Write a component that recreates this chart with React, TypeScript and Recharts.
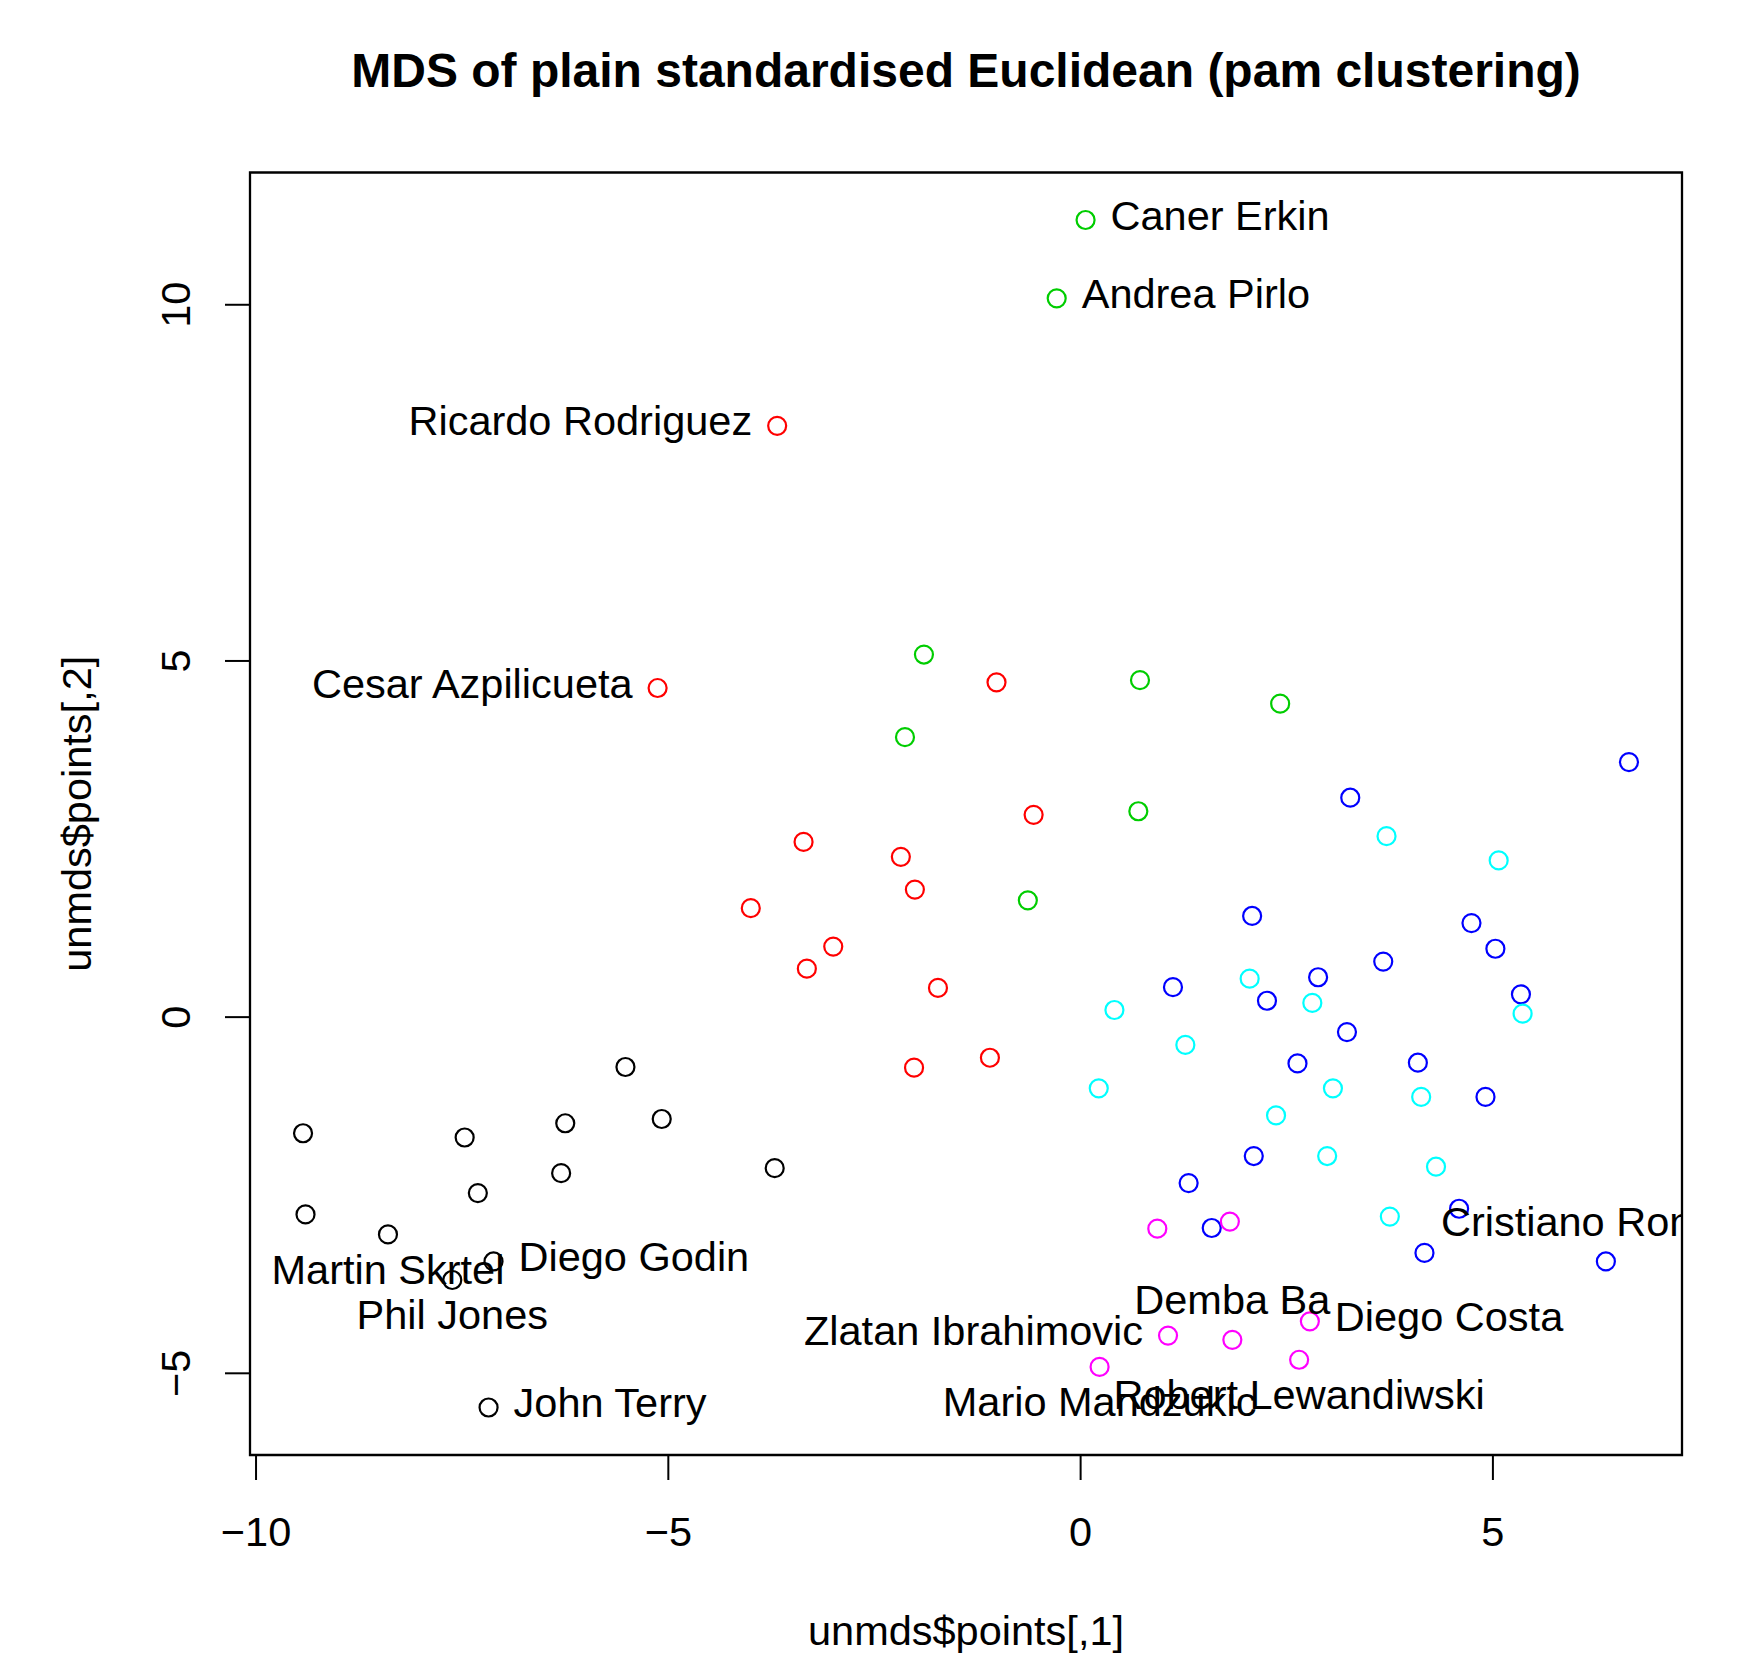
import { ReferenceArea, Scatter, ScatterChart, XAxis, YAxis } from "recharts";

type Pt = { x: number; y: number; name?: string };

// pam cluster 1 (black)
const cluster1: Pt[] = [
  { x: -5.52, y: -0.7 },
  { x: -9.43, y: -1.63 },
  { x: -7.47, y: -1.69 },
  { x: -6.25, y: -1.49 },
  { x: -5.08, y: -1.43 },
  { x: -6.3, y: -2.19 },
  { x: -7.31, y: -2.47 },
  { x: -3.71, y: -2.12 },
  { x: -9.4, y: -2.77 },
  { x: -8.4, y: -3.05, name: "Martin Skrtel" },
  { x: -7.12, y: -3.43, name: "Diego Godin" },
  { x: -7.62, y: -3.69, name: "Phil Jones" },
  { x: -7.18, y: -5.48, name: "John Terry" },
];

// cluster 2 (red)
const cluster2: Pt[] = [
  { x: -3.68, y: 8.3, name: "Ricardo Rodriguez" },
  { x: -5.13, y: 4.62, name: "Cesar Azpilicueta" },
  { x: -1.02, y: 4.7 },
  { x: -0.57, y: 2.84 },
  { x: -3.36, y: 2.46 },
  { x: -2.18, y: 2.25 },
  { x: -2.01, y: 1.79 },
  { x: -4.0, y: 1.53 },
  { x: -3.0, y: 0.99 },
  { x: -3.32, y: 0.68 },
  { x: -1.73, y: 0.41 },
  { x: -1.1, y: -0.57 },
  { x: -2.02, y: -0.71 },
];

// cluster 3 (green)
const cluster3: Pt[] = [
  { x: 0.06, y: 11.19, name: "Caner Erkin" },
  { x: -0.29, y: 10.09, name: "Andrea Pirlo" },
  { x: -1.9, y: 5.09 },
  { x: 0.72, y: 4.73 },
  { x: 2.42, y: 4.4 },
  { x: -2.13, y: 3.93 },
  { x: 0.7, y: 2.89 },
  { x: -0.64, y: 1.64 },
];

// cluster 4 (blue)
const cluster4: Pt[] = [
  { x: 6.65, y: 3.58 },
  { x: 3.27, y: 3.08 },
  { x: 2.08, y: 1.42 },
  { x: 4.74, y: 1.32 },
  { x: 5.03, y: 0.96 },
  { x: 3.67, y: 0.78 },
  { x: 1.12, y: 0.42 },
  { x: 2.88, y: 0.56 },
  { x: 2.26, y: 0.23 },
  { x: 5.34, y: 0.32 },
  { x: 3.23, y: -0.21 },
  { x: 2.63, y: -0.65 },
  { x: 4.09, y: -0.64 },
  { x: 4.91, y: -1.12 },
  { x: 2.1, y: -1.95 },
  { x: 1.31, y: -2.33 },
  { x: 1.59, y: -2.96 },
  { x: 4.59, y: -2.69 },
  { x: 4.17, y: -3.31 },
  { x: 6.37, y: -3.43, name: "Cristiano Ronaldo" },
];

// cluster 5 (cyan)
const cluster5: Pt[] = [
  { x: 3.71, y: 2.54 },
  { x: 5.07, y: 2.2 },
  { x: 2.05, y: 0.54 },
  { x: 2.81, y: 0.2 },
  { x: 5.36, y: 0.05 },
  { x: 0.41, y: 0.1 },
  { x: 1.27, y: -0.39 },
  { x: 0.22, y: -1.0 },
  { x: 3.06, y: -1.0 },
  { x: 4.13, y: -1.12 },
  { x: 2.37, y: -1.38 },
  { x: 2.99, y: -1.95 },
  { x: 4.31, y: -2.1 },
  { x: 3.75, y: -2.8 },
];

// cluster 6 (magenta)
const cluster6: Pt[] = [
  { x: 0.93, y: -2.97 },
  { x: 1.81, y: -2.87 },
  { x: 1.06, y: -4.47, name: "Zlatan Ibrahimovic" },
  { x: 1.84, y: -4.53, name: "Demba Ba" },
  { x: 2.78, y: -4.27, name: "Diego Costa" },
  { x: 2.65, y: -4.81, name: "Robert Lewandiwski" },
  { x: 0.23, y: -4.91, name: "Mario Mandzukic" },
];

const xTicks = [-10, -5, 0, 5];
const yTicks = [-5, 0, 5, 10];

// which side of the point each name is written on (R's pos=)
const labelSide: Record<string, "left" | "right" | "above" | "below"> = {
  "Caner Erkin": "right",
  "Andrea Pirlo": "right",
  "Ricardo Rodriguez": "left",
  "Cesar Azpilicueta": "left",
  "Martin Skrtel": "below",
  "Diego Godin": "right",
  "Phil Jones": "below",
  "John Terry": "right",
  "Zlatan Ibrahimovic": "left",
  "Demba Ba": "above",
  "Diego Costa": "right",
  "Mario Mandzukic": "below",
  "Robert Lewandiwski": "below",
  "Cristiano Ronaldo": "above",
};

const clusters = [
  { id: "c1", color: "#000000", points: cluster1 },
  { id: "c2", color: "#FF0000", points: cluster2 },
  { id: "c3", color: "#00CD00", points: cluster3 },
  { id: "c4", color: "#0000FF", points: cluster4 },
  { id: "c5", color: "#00FFFF", points: cluster5 },
  { id: "c6", color: "#FF00FF", points: cluster6 },
];

const allPoints = clusters.flatMap((c) => c.points);
const named = allPoints.filter((p) => p.name);

// R default: data range widened by 4% on each side
const padRange = (v: number[]): [number, number] => {
  const lo = Math.min(...v);
  const hi = Math.max(...v);
  const d = (hi - lo) * 0.04;
  return [lo - d, hi + d];
};
const xDomain = padRange(allPoints.map((p) => p.x));
const yDomain = padRange(allPoints.map((p) => p.y));

const W = 1751;
const H = 1654;
const PLOT = { left: 250, top: 172.5, right: 1682, bottom: 1455 };
const FONT = '"Liberation Sans", Arial, Helvetica, sans-serif';
const FS = 41.5;

const fmt = (v: number) => String(v).replace("-", "\u2212");

const Circle = ({ cx, cy, color }: any) => (
  <circle cx={cx} cy={cy} r={9} fill="none" stroke={color} strokeWidth={2.2} />
);

const NameLabel = ({ cx, cy, payload }: any) => {
  const side = labelSide[payload.name];
  let tx = cx;
  let ty = cy + 9.5;
  let anchor: "start" | "middle" | "end" = "middle";
  if (side === "right") {
    tx = cx + 25;
    anchor = "start";
  } else if (side === "left") {
    tx = cx - 25;
    anchor = "end";
  } else if (side === "above") {
    ty = cy - 25.5;
  } else {
    ty = cy + 49.5;
  }
  const clipId = "clip-" + payload.name.replace(/\s+/g, "-");
  return (
    <g>
      <clipPath id={clipId}>
        <rect
          x={PLOT.left}
          y={PLOT.top}
          width={PLOT.right - PLOT.left}
          height={PLOT.bottom - PLOT.top}
        />
      </clipPath>
      <text
        x={tx}
        y={ty}
        textAnchor={anchor}
        fontFamily={FONT}
        fontSize={FS}
        fill="#000"
        clipPath={`url(#${clipId})`}
      >
        {payload.name}
      </text>
    </g>
  );
};

const XTick = ({ x, payload }: any) => (
  <text x={x} y={1545.7} textAnchor="middle" fontFamily={FONT} fontSize={FS} fill="#000">
    {fmt(payload.value)}
  </text>
);

const YTick = ({ y, payload }: any) => (
  <text
    x={190.5}
    y={y}
    transform={`rotate(-90, 190.5, ${y})`}
    textAnchor="middle"
    fontFamily={FONT}
    fontSize={FS}
    fill="#000"
  >
    {fmt(payload.value)}
  </text>
);

export default function App() {
  return (
    <div style={{ position: "absolute", left: 0, top: 0, width: W, height: H, background: "#fff" }}>
      <ScatterChart
        width={W}
        height={H}
        margin={{ top: PLOT.top, right: W - PLOT.right, left: 0, bottom: 0 }}
      >
        <XAxis
          type="number"
          dataKey="x"
          domain={xDomain}
          ticks={xTicks}
          allowDataOverflow
          height={H - PLOT.bottom}
          axisLine={false}
          tickSize={25}
          tickLine={{ stroke: "#000", strokeWidth: 2 }}
          tick={<XTick />}
          label={{
            value: "unmds$points[,1]",
            content: ({ viewBox }: any) => (
              <text
                x={viewBox.x + viewBox.width / 2}
                y={1645}
                textAnchor="middle"
                fontFamily={FONT}
                fontSize={FS}
                fill="#000"
              >
                unmds$points[,1]
              </text>
            ),
          }}
        />
        <YAxis
          type="number"
          dataKey="y"
          domain={yDomain}
          ticks={yTicks}
          allowDataOverflow
          width={PLOT.left}
          axisLine={false}
          tickSize={25}
          tickLine={{ stroke: "#000", strokeWidth: 2 }}
          tick={<YTick />}
          label={{
            value: "unmds$points[,2]",
            content: ({ viewBox }: any) => {
              const cy = viewBox.y + viewBox.height / 2;
              return (
                <text
                  x={90.5}
                  y={cy}
                  transform={`rotate(-90, 90.5, ${cy})`}
                  textAnchor="middle"
                  fontFamily={FONT}
                  fontSize={FS}
                  fill="#000"
                >
                  unmds$points[,2]
                </text>
              );
            },
          }}
        />
        <ReferenceArea
          x1={xDomain[0]}
          x2={xDomain[1]}
          y1={yDomain[0]}
          y2={yDomain[1]}
          fill="none"
          stroke="#000"
          strokeWidth={2.3}
          ifOverflow="visible"
        />
        {clusters.map((c) => (
          <Scatter
            key={c.id}
            data={c.points}
            isAnimationActive={false}
            shape={(p: any) => <Circle {...p} color={c.color} />}
          />
        ))}
        <Scatter
          data={named}
          isAnimationActive={false}
          shape={(p: any) => <NameLabel {...p} />}
        />
      </ScatterChart>
      <svg
        width={W}
        height={130}
        style={{ position: "absolute", left: 0, top: 0, pointerEvents: "none" }}
      >
        <text
          x={(PLOT.left + PLOT.right) / 2}
          y={87.3}
          textAnchor="middle"
          fontFamily={FONT}
          fontWeight="bold"
          fontSize={48}
          fill="#000"
        >
          MDS of plain standardised Euclidean (pam clustering)
        </text>
      </svg>
    </div>
  );
}
